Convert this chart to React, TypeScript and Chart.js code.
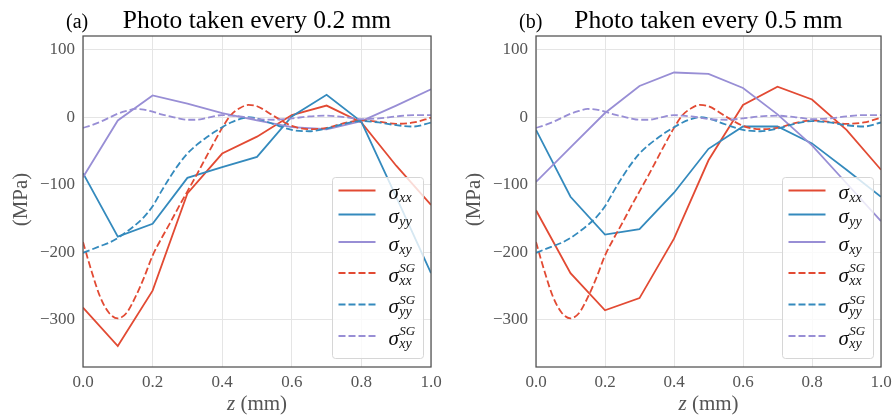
import { useEffect, useRef } from "react";
import { Chart, registerables } from "chart.js";

Chart.register(...registerables);

const FONT = "'Liberation Serif', 'Times New Roman', serif";

// Photo positions along z (mm)
const zPhoto = [0, 0.1, 0.2, 0.3, 0.4, 0.5, 0.6, 0.7, 0.8, 0.9, 1.0];

// (a) photo taken every 0.2 mm — stress components (MPa)
const sxxA = [-282, -339, -257, -113, -54, -29, 3, 17, -8, -72, -130];
const syyA = [-83, -177, -158, -90, -74, -59, 1, 33, -7, -118, -231];
const sxyA = [-89, -5, 32, 20, 6, -5, -15, -18, -6, 17, 41];

// (b) photo taken every 0.5 mm — stress components (MPa)
const sxxB = [-138, -231, -286, -268, -180, -64, 18, 45, 26, -19, -78];
const syyB = [-19, -118, -174, -166, -112, -47, -14, -14, -39, -78, -118];
const sxyB = [-96, -45, 6, 46, 66, 64, 43, 4, -42, -98, -154];

// Strain-gauge reference profiles (MPa), shared by both panels
const sgZ = [
  0, 0.025, 0.05, 0.075, 0.1, 0.125, 0.15, 0.175, 0.2, 0.225, 0.25, 0.275, 0.3,
  0.325, 0.35, 0.375, 0.4, 0.425, 0.45, 0.475, 0.5, 0.55, 0.6, 0.65, 0.7, 0.75,
  0.8, 0.85, 0.9, 0.95, 1.0,
];
const sgXX = [
  -185, -229, -267, -290, -298, -290, -267, -238, -205, -180, -157, -133, -110,
  -87, -63, -39, -16, 3, 13, 18, 16, 1, -13, -18, -16, -9, -5, -7, -10, -8, -1,
];
const sgYY = [
  -201, -196, -191, -186, -179, -170, -160, -148, -132, -110, -89, -70, -54, -42,
  -32, -23, -15, -8, -3, 0, -2, -11, -19, -21, -17, -10, -6, -8, -12, -14, -8,
];
const sgXY = [
  -16, -12, -7, -1, 5, 9, 12, 11, 8, 4, 1, -2, -4, -4, -2, 1, 3, 2, 1, -1, -3, -4,
  -2, 1, 2, 0, -3, -2, 1, 3, 3,
];

const xTicks = [0, 0.2, 0.4, 0.6, 0.8, 1.0];
const yTicks = [-300, -200, -100, 0, 100];

const panelTags = ["(a)", "(b)"];
const panelTitles = ["Photo taken every 0.2 mm", "Photo taken every 0.5 mm"];

const components = ["xx", "yy", "xy"];
const COLORS: Record<string, string> = {
  xx: "#E24A33",
  yy: "#348ABD",
  xy: "#988ED5",
};
const LINE_W = 1.8;
const DASH = [7, 3];

type LegendEntry = { sub: string; sup: string; color: string; dashed: boolean };
const legendEntries: LegendEntry[] = [
  ...components.map((c) => ({ sub: c, sup: "", color: COLORS[c], dashed: false })),
  ...components.map((c) => ({ sub: c, sup: "SG", color: COLORS[c], dashed: true })),
];

function buildDatasets(solid: number[][]) {
  const sg = [sgXX, sgYY, sgXY];
  const measured = components.map((c, i) => ({
    label: "σ" + c,
    data: zPhoto.map((z, k) => ({ x: z, y: solid[i][k] })),
    borderColor: COLORS[c],
    borderWidth: LINE_W,
    pointRadius: 0,
    tension: 0,
    fill: false,
    order: 5 - i,
  }));
  const gauge = components.map((c, i) => ({
    label: "σ" + c + " SG",
    data: sgZ.map((z, k) => ({ x: z, y: sg[i][k] })),
    borderColor: COLORS[c],
    borderWidth: LINE_W,
    borderDash: DASH,
    pointRadius: 0,
    cubicInterpolationMode: "monotone" as const,
    fill: false,
    order: 2 - i,
  }));
  return [...measured, ...gauge];
}

// Frame, legend with sub/superscripts, panel title and axis titles
const panelDecor = {
  id: "panelDecor",
  afterDatasetsDraw(chart: any, _args: any, opts: any) {
    const { ctx, chartArea: a } = chart;
    ctx.save();

    // legend box
    const bw = 91;
    const bh = 181;
    const bx = a.right - 8 - bw;
    const by = a.bottom - 9 - bh;
    ctx.beginPath();
    if ((ctx as any).roundRect) (ctx as any).roundRect(bx + 0.5, by + 0.5, bw, bh, 3);
    else ctx.rect(bx + 0.5, by + 0.5, bw, bh);
    ctx.fillStyle = "rgba(255,255,255,0.8)";
    ctx.fill();
    ctx.strokeStyle = "#d6d6d6";
    ctx.lineWidth = 1;
    ctx.stroke();

    const rowY = [13.5, 37.5, 65, 96, 127.5, 159];
    legendEntries.forEach((e, i) => {
      const ly = by + rowY[i];
      ctx.beginPath();
      ctx.setLineDash(e.dashed ? DASH : []);
      ctx.strokeStyle = e.color;
      ctx.lineWidth = LINE_W;
      ctx.moveTo(bx + 6.5, ly);
      ctx.lineTo(bx + 43.5, ly);
      ctx.stroke();
      ctx.setLineDash([]);

      const tx = bx + 56.5;
      ctx.fillStyle = "#111";
      ctx.textAlign = "left";
      ctx.textBaseline = "alphabetic";
      ctx.font = `italic 21px ${FONT}`;
      ctx.fillText("σ", tx, ly + 8.5);
      const sw = ctx.measureText("σ").width;
      ctx.font = `italic 14px ${FONT}`;
      ctx.fillText(e.sub, tx + sw + 0.5, ly + 11.5);
      if (e.sup) {
        ctx.font = `italic 13px ${FONT}`;
        ctx.fillText(e.sup, tx + sw + 0.5, ly - 1);
      }
    });

    // axes frame
    ctx.strokeStyle = "#505050";
    ctx.lineWidth = 1.25;
    ctx.strokeRect(a.left, a.top, a.right - a.left, a.bottom - a.top);

    // titles
    ctx.fillStyle = "#000";
    ctx.textBaseline = "alphabetic";
    ctx.font = `20px ${FONT}`;
    ctx.textAlign = "left";
    ctx.fillText(opts.tag, a.left - 17, 28);
    ctx.font = `25.5px ${FONT}`;
    ctx.textAlign = "center";
    ctx.fillText(opts.title, (a.left + a.right) / 2, 28);

    // y-axis title
    ctx.save();
    ctx.translate(a.left - 62, (a.top + a.bottom) / 2 - 2);
    ctx.rotate(-Math.PI / 2);
    ctx.fillStyle = "#555";
    ctx.font = `21px ${FONT}`;
    ctx.textAlign = "center";
    ctx.textBaseline = "middle";
    ctx.fillText("(MPa)", 0, 0);
    ctx.restore();

    // x-axis title: italic z followed by the unit
    ctx.fillStyle = "#555";
    ctx.textAlign = "left";
    ctx.font = `italic 21px ${FONT}`;
    const zw = ctx.measureText("z").width;
    ctx.font = `21px ${FONT}`;
    const uw = ctx.measureText(" (mm)").width;
    const x0 = (a.left + a.right) / 2 - (zw + uw) / 2;
    ctx.font = `italic 21px ${FONT}`;
    ctx.fillText("z", x0, 410);
    ctx.font = `21px ${FONT}`;
    ctx.fillText(" (mm)", x0 + zw, 410);

    ctx.restore();
  },
};

type PanelProps = {
  index: number;
  width: number;
  yWidth: number;
  padRight: number;
  solid: number[][];
};

function StressPanel({ index, width, yWidth, padRight, solid }: PanelProps) {
  const ref = useRef<HTMLCanvasElement | null>(null);

  useEffect(() => {
    if (!ref.current) return;
    const tickFont = { family: FONT, size: 17 };
    const chart = new Chart(ref.current, {
      type: "line",
      data: { datasets: buildDatasets(solid) as any },
      options: {
        responsive: false,
        animation: false,
        devicePixelRatio: 1,
        events: [],
        layout: { padding: { top: 36, right: padRight, left: 0, bottom: 0 } },
        plugins: {
          legend: { display: false },
          tooltip: { enabled: false },
          title: { display: false },
          panelDecor: { tag: panelTags[index], title: panelTitles[index] },
        } as any,
        scales: {
          x: {
            type: "linear",
            min: 0,
            max: 1,
            grid: { color: "#e5e5e5", lineWidth: 1, drawTicks: false },
            border: { display: false },
            ticks: {
              color: "#555",
              font: tickFont,
              padding: 5,
              maxRotation: 0,
              autoSkip: false,
              callback: (v: any) => Number(v).toFixed(1),
            },
            afterBuildTicks: (s: any) => {
              s.ticks = xTicks.map((v) => ({ value: v }));
            },
            afterFit: (s: any) => {
              s.height = 51;
              s.paddingLeft = 0;
              s.paddingRight = 0;
            },
          },
          y: {
            type: "linear",
            min: -370,
            max: 120,
            grid: { color: "#e5e5e5", lineWidth: 1, drawTicks: false },
            border: { display: false },
            ticks: {
              color: "#555",
              font: tickFont,
              padding: 8,
              callback: (v: any) => (v < 0 ? "\u2212" + Math.abs(v) : String(v)),
            },
            afterBuildTicks: (s: any) => {
              s.ticks = yTicks.map((v) => ({ value: v }));
            },
            afterFit: (s: any) => {
              s.width = yWidth;
              s.paddingTop = 0;
              s.paddingBottom = 0;
            },
          },
        },
      },
      plugins: [panelDecor as any],
    });
    return () => chart.destroy();
  }, [index, width, yWidth, padRight, solid]);

  return (
    <canvas
      ref={ref}
      width={width}
      height={418}
      style={{ display: "block", width, height: 418 }}
    />
  );
}

export default function App() {
  return (
    <div
      style={{
        position: "absolute",
        left: 0,
        top: 0,
        width: 893,
        height: 418,
        display: "flex",
        background: "#fff",
      }}
    >
      <StressPanel index={0} width={450} yWidth={83} padRight={19} solid={[sxxA, syyA, sxyA]} />
      <StressPanel index={1} width={443} yWidth={86} padRight={12} solid={[sxxB, syyB, sxyB]} />
    </div>
  );
}
